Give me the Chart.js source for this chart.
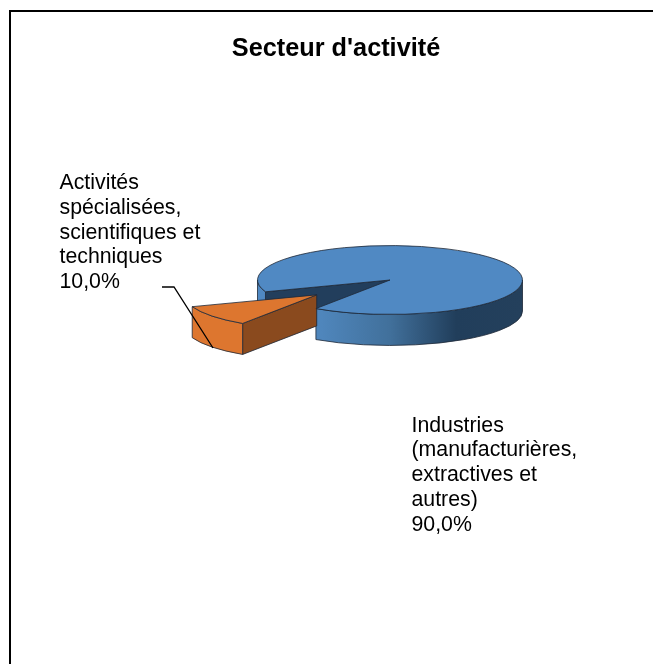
<!DOCTYPE html>
<html>
<head>
<meta charset="utf-8">
<script src="https://cdn.jsdelivr.net/npm/chart.js@4/dist/chart.umd.min.js"></script>
<style>
html,body{margin:0;padding:0;background:#fff;overflow:hidden;width:653px;height:664px}
#frame{position:absolute;left:9px;top:10px;border-left:2px solid #000;border-top:2px solid #000;width:650px;height:660px}
canvas{display:block}
</style>
</head>
<body>
<div id="frame"><canvas id="c" width="650" height="660"></canvas></div>
<script>
const chartTitle = "Secteur d'activité";
const categories = ["Industries (manufacturières, extractives et autres)", "Activités spécialisées, scientifiques et techniques"];
const values = [90, 10];
const valueLabels = ["90,0%", "10,0%"];
const labelLines = [
  ["Industries", "(manufacturières,", "extractives et", "autres)"],
  ["Activités", "spécialisées,", "scientifiques et", "techniques"]
];
const topColors = ["#5089C3", "#DD762F"];
const radialColors = ["#223E5C", "#8A4A1E"];
const explodePx = [0, 93];

const PIE_CENTER = {x: 379, y: 268};
const TILT = 0.26, DEPTH = 31, RADIUS = 132.5;
const LABEL_POS = [{x: 400.5, y: 419.7}, {x: 48.5, y: 177}];
const LINE_H = 24.75;
const LEADER = [[151, 275], [163, 275], [202, 336]];
const EDGE = "rgba(30,40,55,0.8)";

function origin(arc, i) {
  const mid = (arc.startAngle + arc.endAngle) / 2;
  return {x: arc.x + Math.cos(mid) * explodePx[i], y: arc.y + Math.sin(mid) * explodePx[i] * TILT};
}

function drawWalls(ctx, arc, i) {
  const o = origin(arc, i), r = arc.outerRadius, ry = r * TILT;
  const radial = a => {
    const px = o.x + Math.cos(a) * r, py = o.y + Math.sin(a) * ry;
    ctx.beginPath();
    ctx.moveTo(o.x, o.y); ctx.lineTo(px, py); ctx.lineTo(px, py + DEPTH); ctx.lineTo(o.x, o.y + DEPTH);
    ctx.closePath();
    ctx.fillStyle = radialColors[i]; ctx.fill();
    ctx.strokeStyle = EDGE; ctx.lineWidth = 1; ctx.stroke();
  };
  if (Math.cos(arc.startAngle) < 0) radial(arc.startAngle);
  if (Math.cos(arc.endAngle) > 0) radial(arc.endAngle);

  let fill = topColors[i];
  if (i === 0) {
    const g = ctx.createLinearGradient(o.x - r, 0, o.x + r, 0);
    g.addColorStop(0, "#5089C3");
    g.addColorStop(0.24, "#4F86BC");
    g.addColorStop(0.5, "#41709B");
    g.addColorStop(0.75, "#213E5B");
    g.addColorStop(1, "#24405C");
    fill = g;
  }
  [[0, Math.PI], [2 * Math.PI, 3 * Math.PI]].forEach(([lo, hi]) => {
    const s = Math.max(arc.startAngle, lo), e = Math.min(arc.endAngle, hi);
    if (e <= s) return;
    ctx.beginPath();
    ctx.ellipse(o.x, o.y, r, ry, 0, s, e);
    ctx.ellipse(o.x, o.y + DEPTH, r, ry, 0, e, s, true);
    ctx.closePath();
    ctx.fillStyle = fill; ctx.fill();
    ctx.strokeStyle = EDGE; ctx.lineWidth = 1; ctx.stroke();
  });
}

const pie3d = {
  id: "pie3d",
  afterLayout(chart) {
    chart.chartArea.left = PIE_CENTER.x - 300; chart.chartArea.right = PIE_CENTER.x + 300;
    chart.chartArea.top = PIE_CENTER.y - 260; chart.chartArea.bottom = PIE_CENTER.y + 260;
    chart.chartArea.width = 600; chart.chartArea.height = 520;
  },
  beforeDatasetDraw(chart, args) {
    const ctx = chart.ctx, arcs = args.meta.data;
    arcs.forEach((arc, i) => drawWalls(ctx, arc, i));
    arcs.forEach((arc, i) => {
      const o = origin(arc, i);
      ctx.save();
      ctx.translate(o.x, o.y);
      ctx.scale(1, TILT);
      ctx.translate(-arc.x, -arc.y);
      arc.draw(ctx);
      ctx.restore();
      ctx.beginPath();
      ctx.moveTo(o.x, o.y);
      ctx.ellipse(o.x, o.y, arc.outerRadius, arc.outerRadius * TILT, 0, arc.startAngle, arc.endAngle);
      ctx.closePath();
      ctx.strokeStyle = EDGE; ctx.lineWidth = 1; ctx.stroke();
    });
    return false;
  },
  afterDraw(chart) {
    const ctx = chart.ctx;
    ctx.save();
    ctx.fillStyle = "#000";
    ctx.font = "21.3px 'Liberation Sans', Arial, sans-serif";
    ctx.textBaseline = "alphabetic";
    ctx.textAlign = "left";
    labelLines.forEach((lines, i) => {
      lines.concat(valueLabels[i]).forEach((t, j) => ctx.fillText(t, LABEL_POS[i].x, LABEL_POS[i].y + j * LINE_H));
    });
    ctx.beginPath();
    LEADER.forEach(([x, y], k) => k ? ctx.lineTo(x, y) : ctx.moveTo(x, y));
    ctx.strokeStyle = "#000"; ctx.lineWidth = 1.3; ctx.stroke();
    ctx.restore();
  }
};

new Chart(document.getElementById("c"), {
  type: "pie",
  data: {
    labels: categories,
    datasets: [{data: values, backgroundColor: topColors, borderWidth: 0, radius: RADIUS, clip: false}]
  },
  options: {
    responsive: false,
    animation: false,
    rotation: 250,
    plugins: {
      legend: {display: false},
      tooltip: {enabled: false},
      title: {
        display: true,
        text: chartTitle,
        color: "#000",
        font: {family: "'Liberation Sans', Arial, sans-serif", size: 25.3, weight: "bold"},
        padding: {top: 21.7, bottom: 0}
      }
    }
  },
  plugins: [pie3d]
});
</script>
</body>
</html>
